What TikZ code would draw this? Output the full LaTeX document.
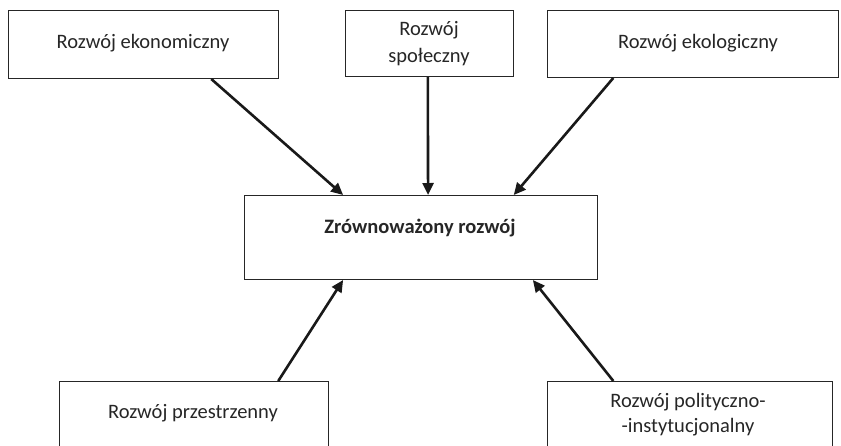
\documentclass[tikz,border=0pt]{standalone}
\usepackage{fontspec}
\setmainfont{Carlito}
\usetikzlibrary{arrows.meta,calc}
\tikzset{
  box/.style={draw=black!85, line width=1pt, inner sep=0pt, anchor=north west},
  txt/.style={font=\fontsize{20.5}{27}\selectfont, text=black!85, align=center, inner sep=0pt},
  arr/.style={line width=2.6pt, draw=black!90, -{Triangle[length=12pt,width=11pt]}, shorten >=0pt}
}
\begin{document}
\begin{tikzpicture}[x=1pt,y=-1pt]
\useasboundingbox (0,0) rectangle (841,445);
\clip (0,0) rectangle (841,445);
% boxes
\node[box, minimum width=270pt, minimum height=68pt] (tl) at (8,10) {};
\node[box, minimum width=168pt, minimum height=66pt] (tm) at (345,10) {};
\node[box, minimum width=291pt, minimum height=67pt] (tr) at (547,10) {};
\node[box, minimum width=353pt, minimum height=84pt] (c) at (244,195) {};
\node[box, minimum width=269pt, minimum height=90pt] (bl) at (59,381) {};
\node[box, minimum width=285pt, minimum height=90pt] (br) at (547,381) {};
% texts
\node[txt] (tlt) at (143,43) {Rozwój ekonomiczny};
\node[txt] (tmt) at (429,44) {Rozwój\\społeczny};
\node[txt] (trt) at (698,43) {Rozwój ekologiczny};
\node[txt, font=\fontsize{20.5}{27}\selectfont\bfseries] (ct) at (420,228) {Zrównoważony rozwój};
\node[txt] (blt) at (193,413) {Rozwój przestrzenny};
\node[txt, font=\fontsize{20.5}{25}\selectfont] (brt) at (688,415) {Rozwój polityczno-\\-instytucjonalny};
% arrows
\draw[arr] ($(tl.south west)!0.75!(tl.south east)$) -- ($(c.north west)!0.28!(c.north east)$);
\draw[arr] ($(tm.south west)!0.49!(tm.south east)$) -- ($(c.north west)!0.52!(c.north east)$);
\draw[arr] ($(tr.south west)!0.227!(tr.south east)$) -- ($(c.north west)!0.762!(c.north east)$);
\draw[arr] ($(bl.north west)!0.812!(bl.north east)$) -- ($(c.south west)!0.28!(c.south east)$);
\draw[arr] ($(br.north west)!0.232!(br.north east)$) -- ($(c.south west)!0.816!(c.south east)$);
\end{tikzpicture}
\end{document}
